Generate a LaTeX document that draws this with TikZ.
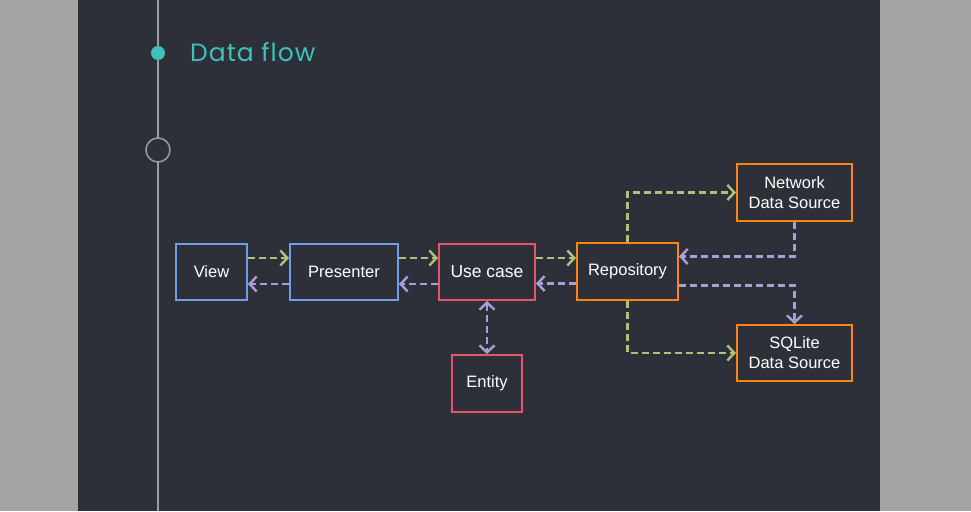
\documentclass[tikz,border=0pt]{standalone}
\usepackage{fontspec}
\setmainfont{Liberation Sans}
\newfontfamily\titlefont[LetterSpace=4]{Poppins}
\usetikzlibrary{arrows.meta}
\definecolor{outer}{HTML}{A4A4A4}
\definecolor{panel}{HTML}{2E3039}
\definecolor{teal}{HTML}{3CC2B8}
\definecolor{tline}{HTML}{9B9DA4}
\definecolor{bblue}{HTML}{6C9EEA}
\definecolor{bred}{HTML}{EA5468}
\definecolor{borange}{HTML}{FF8411}
\definecolor{agreen}{HTML}{A9C47C}
\definecolor{alav}{HTML}{AA9ED9}
\tikzset{
  box/.style={draw, line width=2pt, fill=panel, text=white, inner sep=0pt, align=center,
    font=\fontsize{16.5}{20}\selectfont, anchor=north west},
  barb/.tip={Straight Barb[length=7pt,width=15pt,line width=2.4pt]},
  flowarrow/.style={line width=2.8pt, dash pattern=on 7pt off 4pt, -barb},
  gflow/.style={flowarrow, agreen},
  lflow/.style={flowarrow, alav},
}
\begin{document}
\begin{tikzpicture}[x=1pt,y=-1pt]
\useasboundingbox (0,0) rectangle (971,511);
\fill[outer] (0,0) rectangle (971,511);
\fill[panel] (78,0) rectangle (880,511);
% timeline
\draw[tline, line width=1.5pt] (158,0) -- (158,511);
\node[circle, fill=teal, minimum size=14pt, inner sep=0pt] (dot) at (158,53) {};
\node[circle, draw=tline, fill=panel, line width=1.5pt, minimum size=24pt, inner sep=0pt] (hollow) at (158,150) {};
\node[anchor=base west, text=teal, font=\titlefont\fontsize{25}{30}\selectfont, inner sep=0pt] (title) at (190,62) {Data flow};
% boxes
\node[box, draw=bblue, minimum width=71pt, minimum height=56pt] (view) at (175,243) {View};
\node[box, draw=bblue, minimum width=108pt, minimum height=56pt] (pres) at (289,243) {Presenter};
\node[box, draw=bred, minimum width=96pt, minimum height=56pt, font=\fontsize{17.5}{20}\selectfont] (uc) at (438,243) {Use case};
\node[box, draw=bred, minimum width=70pt, minimum height=57pt] (ent) at (451,354) {Entity};
\node[box, draw=borange, minimum width=101pt, minimum height=57pt] (repo) at (576,242) {Repository};
\node[box, draw=borange, minimum width=115pt, minimum height=57pt] (net) at (736,163) {Network\\Data Source};
\node[box, draw=borange, minimum width=115pt, minimum height=56pt] (sql) at (736,324) {SQLite\\Data Source};
% arrows
\draw[gflow] ([yshift=14pt]view.east) -- ([yshift=14pt]view.east -| pres.west);
\draw[lflow] ([yshift=-12pt]pres.west) -- ([yshift=-12pt]pres.west -| view.east);
\draw[gflow] ([yshift=14pt]pres.east) -- ([yshift=14pt]pres.east -| uc.west);
\draw[lflow] ([yshift=-12pt]uc.west) -- ([yshift=-12pt]uc.west -| pres.east);
\draw[gflow] ([yshift=14pt]uc.east) -- ([yshift=14pt]uc.east -| repo.west);
\draw[lflow] ([yshift=-12pt]repo.west) -- ([yshift=-12pt]repo.west -| uc.east);
\draw[lflow, barb-barb] (uc.south) -- (ent.north);
\draw[gflow] (repo.north) |- (net.west);
\draw[lflow] (net.south) |- ([yshift=15pt]repo.east);
\draw[lflow] ([yshift=-14pt]repo.east) -| (sql.north);
\draw[gflow] (repo.south) |- (sql.west);
\end{tikzpicture}
\end{document}
